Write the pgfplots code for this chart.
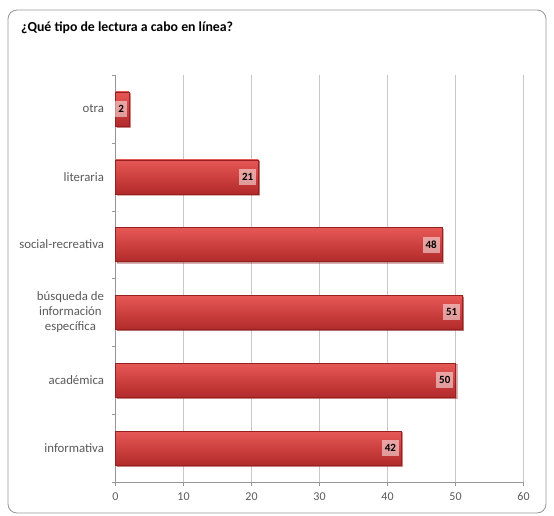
\documentclass[border=0pt]{standalone}
\usepackage{pgfplots}
\pgfplotsset{compat=1.18}
\usepackage{fontspec}
\setmainfont{Carlito}
\usetikzlibrary{shadows}
\definecolor{barTop}{RGB}{230,88,86}
\definecolor{barBot}{RGB}{178,42,42}
\definecolor{barEdge}{RGB}{150,32,32}
\definecolor{txtgray}{RGB}{89,89,89}
\definecolor{gridgray}{RGB}{200,200,200}
\definecolor{axgray}{RGB}{150,150,150}
\begin{document}
\begin{tikzpicture}
\useasboundingbox (0,0) rectangle (554pt,515pt);
\draw[axgray, rounded corners=9pt, line width=0.8pt] (8pt,505pt) rectangle (546pt,2pt);
\node[anchor=west, font=\bfseries\fontsize{13.8}{15}\selectfont, inner sep=0pt] at (21pt,487pt) {¿Qué tipo de lectura a cabo en línea?};
\begin{axis}[
  at={(115.5pt,33pt)}, anchor=south west,
  scale only axis, width=408pt, height=407pt,
  xmin=0, xmax=60, ymin=-0.5, ymax=5.5,
  xtick={0,10,...,60},
  ytick={0,...,5},
  yticklabels={informativa, académica, {búsqueda de\\información\\específica}, social-recreativa, literaria, otra},
  minor ytick={-0.5,0.5,...,5.5},
  major y tick style={draw=none},
  minor tick length=4pt,
  major tick length=4pt,
  tick align=outside,
  tick style={axgray},
  xmajorgrids, major grid style={gridgray, line width=0.7pt},
  axis x line*=bottom, axis y line*=left,
  axis line style={axgray, -},
  yticklabel style={align=center, font=\fontsize{12.8}{15}\selectfont, text=txtgray, xshift=-4pt},
  xticklabel style={font=\fontsize{12}{14}\selectfont, text=txtgray, yshift=-3pt},
  /pgf/number format/assume math mode=true,
  xbar, bar width=0.5, bar shift=0pt,
  nodes near coords,
  nodes near coords align={anchor=east},
  every node near coord/.append style={font=\bfseries\fontsize{11}{12}\selectfont, text=black, fill=white, fill opacity=0.5, text opacity=1, inner sep=3pt, minimum height=16pt, xshift=-2pt},
  clip=false,
  barsty/.style={draw=barEdge, line width=0.3pt, top color=barTop, bottom color=barBot,
  drop shadow={shadow xshift=1.2pt, shadow yshift=-1.2pt, opacity=0.35}},
]
\addplot[barsty] coordinates {(42,0)};
\addplot[barsty] coordinates {(50,1)};
\addplot[barsty] coordinates {(51,2)};
\addplot[barsty] coordinates {(48,3)};
\addplot[barsty] coordinates {(21,4)};
\addplot[barsty] coordinates {(2,5)};
\end{axis}
\end{tikzpicture}
\end{document}
